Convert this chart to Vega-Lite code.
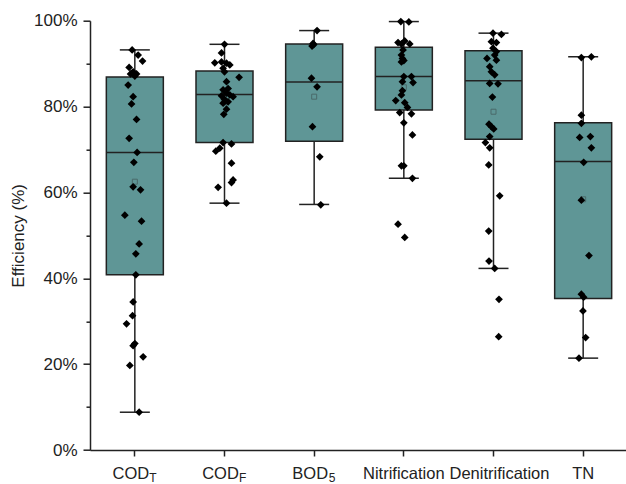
{
  "$schema": "https://vega.github.io/schema/vega-lite/v6.json",
  "width": 538,
  "height": 429.3,
  "autosize": "none",
  "padding": {"left": 90, "top": 20.7, "right": 0, "bottom": 34},
  "background": "white",
  "config": {
    "view": {"stroke": null},
    "font": "Liberation Sans",
    "axis": {"grid": false, "domainColor": "#222", "tickColor": "#222", "domainWidth": 1.5, "tickWidth": 1.5, "labelColor": "#222", "labelFont": "Liberation Sans", "titleFont": "Liberation Sans", "titleColor": "#222", "titleFontWeight": "normal"}
  },
  "datasets": {
    "box": [
      {"cat": "CODT", "lo": 8.8, "q1": 40.8, "med": 69.3, "q3": 86.9, "hi": 93.2, "mean": 62.5},
      {"cat": "CODF", "lo": 57.5, "q1": 71.6, "med": 82.8, "q3": 88.3, "hi": 94.5, "mean": 81.0},
      {"cat": "BOD5", "lo": 57.2, "q1": 71.9, "med": 85.7, "q3": 94.6, "hi": 97.7, "mean": 82.3},
      {"cat": "Nitrification", "lo": 63.3, "q1": 79.2, "med": 87.0, "q3": 93.8, "hi": 99.8, "mean": 84.5},
      {"cat": "Denitrification", "lo": 42.3, "q1": 72.4, "med": 86.0, "q3": 93.0, "hi": 97.1, "mean": 78.8},
      {"cat": "TN", "lo": 21.4, "q1": 35.3, "med": 67.2, "q3": 76.2, "hi": 91.6, "mean": 58.4}
    ],
    "subs": [
      {"cat": "CODT", "sub": "T"},
      {"cat": "CODF", "sub": "F"},
      {"cat": "BOD5", "sub": "5"}
    ],
    "pts": [
      {"cat": "CODT", "eff": 93.2, "jitter": -2.7},
      {"cat": "CODT", "eff": 92.0, "jitter": 3.3},
      {"cat": "CODT", "eff": 90.6, "jitter": 7.7},
      {"cat": "CODT", "eff": 89.1, "jitter": -5.7},
      {"cat": "CODT", "eff": 88.1, "jitter": -1.7},
      {"cat": "CODT", "eff": 87.6, "jitter": 1.7},
      {"cat": "CODT", "eff": 87.6, "jitter": -4.3},
      {"cat": "CODT", "eff": 87.1, "jitter": 0},
      {"cat": "CODT", "eff": 85.0, "jitter": -6.7},
      {"cat": "CODT", "eff": 82.3, "jitter": -1.7},
      {"cat": "CODT", "eff": 80.6, "jitter": -3.3},
      {"cat": "CODT", "eff": 77.0, "jitter": 1.7},
      {"cat": "CODT", "eff": 72.6, "jitter": -5.7},
      {"cat": "CODT", "eff": 69.3, "jitter": 2.3},
      {"cat": "CODT", "eff": 67.0, "jitter": -1},
      {"cat": "CODT", "eff": 61.3, "jitter": -1.7},
      {"cat": "CODT", "eff": 60.6, "jitter": 5.7},
      {"cat": "CODT", "eff": 54.7, "jitter": -10},
      {"cat": "CODT", "eff": 53.3, "jitter": 6.7},
      {"cat": "CODT", "eff": 48.0, "jitter": 4.3},
      {"cat": "CODT", "eff": 45.7, "jitter": 1},
      {"cat": "CODT", "eff": 40.8, "jitter": 1},
      {"cat": "CODT", "eff": 34.5, "jitter": -1.7},
      {"cat": "CODT", "eff": 31.3, "jitter": -2.3},
      {"cat": "CODT", "eff": 29.4, "jitter": -8.3},
      {"cat": "CODT", "eff": 24.8, "jitter": 0},
      {"cat": "CODT", "eff": 24.3, "jitter": -1.7},
      {"cat": "CODT", "eff": 21.7, "jitter": 8.3},
      {"cat": "CODT", "eff": 19.7, "jitter": -5},
      {"cat": "CODT", "eff": 8.8, "jitter": 4.3},
      {"cat": "CODF", "eff": 94.5, "jitter": 0},
      {"cat": "CODF", "eff": 92.5, "jitter": -3},
      {"cat": "CODF", "eff": 90.2, "jitter": -9.7},
      {"cat": "CODF", "eff": 90.4, "jitter": -3},
      {"cat": "CODF", "eff": 90.1, "jitter": 2},
      {"cat": "CODF", "eff": 89.7, "jitter": 5.3},
      {"cat": "CODF", "eff": 88.9, "jitter": -1.4},
      {"cat": "CODF", "eff": 88.1, "jitter": 0},
      {"cat": "CODF", "eff": 86.8, "jitter": 14.6},
      {"cat": "CODF", "eff": 85.8, "jitter": 2},
      {"cat": "CODF", "eff": 84.2, "jitter": 3.6},
      {"cat": "CODF", "eff": 83.9, "jitter": -1.4},
      {"cat": "CODF", "eff": 83.1, "jitter": 2},
      {"cat": "CODF", "eff": 82.7, "jitter": 5.3},
      {"cat": "CODF", "eff": 82.5, "jitter": -3},
      {"cat": "CODF", "eff": 82.3, "jitter": 8.6},
      {"cat": "CODF", "eff": 81.7, "jitter": 0},
      {"cat": "CODF", "eff": 81.1, "jitter": 3.6},
      {"cat": "CODF", "eff": 80.8, "jitter": -1.4},
      {"cat": "CODF", "eff": 79.4, "jitter": 2},
      {"cat": "CODF", "eff": 78.2, "jitter": -0.7},
      {"cat": "CODF", "eff": 71.6, "jitter": -1.4},
      {"cat": "CODF", "eff": 71.3, "jitter": 7},
      {"cat": "CODF", "eff": 70.3, "jitter": -4.7},
      {"cat": "CODF", "eff": 69.6, "jitter": -8.7},
      {"cat": "CODF", "eff": 66.8, "jitter": 7},
      {"cat": "CODF", "eff": 62.9, "jitter": 8.6},
      {"cat": "CODF", "eff": 62.3, "jitter": 7},
      {"cat": "CODF", "eff": 61.2, "jitter": -6.4},
      {"cat": "CODF", "eff": 57.5, "jitter": 2},
      {"cat": "BOD5", "eff": 97.7, "jitter": 2.9},
      {"cat": "BOD5", "eff": 94.7, "jitter": -1.1},
      {"cat": "BOD5", "eff": 94.1, "jitter": -2.1},
      {"cat": "BOD5", "eff": 94.4, "jitter": -0.5},
      {"cat": "BOD5", "eff": 86.6, "jitter": -2.7},
      {"cat": "BOD5", "eff": 84.6, "jitter": 2.9},
      {"cat": "BOD5", "eff": 75.3, "jitter": -1.7},
      {"cat": "BOD5", "eff": 68.3, "jitter": 5.6},
      {"cat": "BOD5", "eff": 57.1, "jitter": 6.6},
      {"cat": "Nitrification", "eff": 99.8, "jitter": -3},
      {"cat": "Nitrification", "eff": 99.7, "jitter": 5},
      {"cat": "Nitrification", "eff": 94.9, "jitter": -5.8},
      {"cat": "Nitrification", "eff": 95.3, "jitter": 0.9},
      {"cat": "Nitrification", "eff": 94.6, "jitter": 5.9},
      {"cat": "Nitrification", "eff": 94.6, "jitter": -2.4},
      {"cat": "Nitrification", "eff": 93.2, "jitter": -0.8},
      {"cat": "Nitrification", "eff": 92.0, "jitter": -2.4},
      {"cat": "Nitrification", "eff": 91.2, "jitter": -1.4},
      {"cat": "Nitrification", "eff": 90.7, "jitter": 0},
      {"cat": "Nitrification", "eff": 90.4, "jitter": -2.4},
      {"cat": "Nitrification", "eff": 87.0, "jitter": 0},
      {"cat": "Nitrification", "eff": 87.0, "jitter": 7.6},
      {"cat": "Nitrification", "eff": 85.8, "jitter": -1.4},
      {"cat": "Nitrification", "eff": 85.6, "jitter": 9.2},
      {"cat": "Nitrification", "eff": 83.7, "jitter": -1.4},
      {"cat": "Nitrification", "eff": 82.7, "jitter": -2.4},
      {"cat": "Nitrification", "eff": 81.4, "jitter": -8.1},
      {"cat": "Nitrification", "eff": 80.9, "jitter": 0.9},
      {"cat": "Nitrification", "eff": 79.8, "jitter": 3.6},
      {"cat": "Nitrification", "eff": 78.6, "jitter": -4.1},
      {"cat": "Nitrification", "eff": 78.3, "jitter": 7.6},
      {"cat": "Nitrification", "eff": 76.2, "jitter": 0},
      {"cat": "Nitrification", "eff": 73.4, "jitter": 8.6},
      {"cat": "Nitrification", "eff": 66.2, "jitter": -2.4},
      {"cat": "Nitrification", "eff": 66.2, "jitter": 0},
      {"cat": "Nitrification", "eff": 63.3, "jitter": 8.6},
      {"cat": "Nitrification", "eff": 52.6, "jitter": -5.8},
      {"cat": "Nitrification", "eff": 49.5, "jitter": 0.9},
      {"cat": "Denitrification", "eff": 97.1, "jitter": -0.5},
      {"cat": "Denitrification", "eff": 96.8, "jitter": 7.9},
      {"cat": "Denitrification", "eff": 95.1, "jitter": -2.1},
      {"cat": "Denitrification", "eff": 94.9, "jitter": 2.9},
      {"cat": "Denitrification", "eff": 93.6, "jitter": -0.5},
      {"cat": "Denitrification", "eff": 92.8, "jitter": 2.9},
      {"cat": "Denitrification", "eff": 92.0, "jitter": 1.2},
      {"cat": "Denitrification", "eff": 91.2, "jitter": -6.5},
      {"cat": "Denitrification", "eff": 90.8, "jitter": 2.9},
      {"cat": "Denitrification", "eff": 89.3, "jitter": -3.8},
      {"cat": "Denitrification", "eff": 88.1, "jitter": -2.1},
      {"cat": "Denitrification", "eff": 87.4, "jitter": 1.2},
      {"cat": "Denitrification", "eff": 85.4, "jitter": -3.8},
      {"cat": "Denitrification", "eff": 85.3, "jitter": 4.5},
      {"cat": "Denitrification", "eff": 82.2, "jitter": -1.1},
      {"cat": "Denitrification", "eff": 75.9, "jitter": -4.5},
      {"cat": "Denitrification", "eff": 75.3, "jitter": -2.1},
      {"cat": "Denitrification", "eff": 74.8, "jitter": 0.2},
      {"cat": "Denitrification", "eff": 73.0, "jitter": -3.8},
      {"cat": "Denitrification", "eff": 71.6, "jitter": -8.1},
      {"cat": "Denitrification", "eff": 70.4, "jitter": -3.8},
      {"cat": "Denitrification", "eff": 66.4, "jitter": -4.8},
      {"cat": "Denitrification", "eff": 59.2, "jitter": 6.2},
      {"cat": "Denitrification", "eff": 51.0, "jitter": -4.8},
      {"cat": "Denitrification", "eff": 44.0, "jitter": -4.5},
      {"cat": "Denitrification", "eff": 42.3, "jitter": 1.2},
      {"cat": "Denitrification", "eff": 35.1, "jitter": 5.5},
      {"cat": "Denitrification", "eff": 26.4, "jitter": 5.2},
      {"cat": "TN", "eff": 91.4, "jitter": -1.8},
      {"cat": "TN", "eff": 91.6, "jitter": 8.2},
      {"cat": "TN", "eff": 78.0, "jitter": -1.8},
      {"cat": "TN", "eff": 76.1, "jitter": -1.8},
      {"cat": "TN", "eff": 72.8, "jitter": -3.5},
      {"cat": "TN", "eff": 73.0, "jitter": 7.2},
      {"cat": "TN", "eff": 70.4, "jitter": 8.2},
      {"cat": "TN", "eff": 67.0, "jitter": 0.5},
      {"cat": "TN", "eff": 58.2, "jitter": -1.8},
      {"cat": "TN", "eff": 45.3, "jitter": 5.8},
      {"cat": "TN", "eff": 36.3, "jitter": -1.8},
      {"cat": "TN", "eff": 35.6, "jitter": 0.5},
      {"cat": "TN", "eff": 32.4, "jitter": -0.2},
      {"cat": "TN", "eff": 26.2, "jitter": 2.5},
      {"cat": "TN", "eff": 21.4, "jitter": -4.2}
    ]
  },
  "encoding": {
    "x": {
      "field": "cat", "type": "nominal", "sort": ["CODT", "CODF", "BOD5", "Nitrification", "Denitrification", "TN"],
      "scale": {"domain": ["CODT", "CODF", "BOD5", "Nitrification", "Denitrification", "TN"], "paddingInner": 0, "paddingOuter": 0},
      "axis": {
        "title": null, "labelAngle": 0, "labelFontSize": 16.5, "tickSize": 6, "labelPadding": 9, "labelOverlap": false,
        "labelExpr": "datum.value == 'CODT' || datum.value == 'CODF' ? 'COD' : datum.value == 'BOD5' ? 'BOD' : datum.value",
        "labelOffset": {"condition": [
          {"test": "datum.value == 'CODT' || datum.value == 'CODF' || datum.value == 'BOD5'", "value": -4},
          {"test": "datum.value == 'Denitrification'", "value": 6}
        ], "value": 0}
      }
    }
  },
  "layer": [
    {
      "data": {"name": "box"},
      "mark": {"type": "rule", "color": "#222", "strokeWidth": 1.5},
      "encoding": {
        "y": {"field": "lo", "type": "quantitative", "scale": {"domain": [0, 100], "nice": false},
          "axis": {"title": "Efficiency (%)", "titleFontSize": 17, "titlePadding": 6, "labelFontSize": 17, "labelPadding": 6,
            "values": [0, 10, 20, 30, 40, 50, 60, 70, 80, 90, 100],
            "labelExpr": "datum.value % 20 === 0 ? datum.value + '%' : ''",
            "tickSize": {"condition": {"test": "datum.value % 20 === 0", "value": 7}, "value": 4}}},
        "y2": {"field": "hi"}
      }
    },
    {
      "data": {"name": "box"},
      "mark": {"type": "bar", "width": 57, "fill": "#5f9696", "stroke": "#222", "strokeWidth": 1.5},
      "encoding": {
        "y": {"field": "q1", "type": "quantitative"},
        "y2": {"field": "q3"}
      }
    },
    {
      "data": {"name": "box"},
      "mark": {"type": "tick", "color": "#222", "thickness": 1.5, "size": 57, "opacity": 1},
      "encoding": {"y": {"field": "med", "type": "quantitative"}}
    },
    {
      "data": {"name": "box"},
      "mark": {"type": "tick", "color": "#222", "thickness": 1.5, "size": 30, "opacity": 1},
      "encoding": {"y": {"field": "lo", "type": "quantitative"}}
    },
    {
      "data": {"name": "box"},
      "mark": {"type": "tick", "color": "#222", "thickness": 1.5, "size": 30, "opacity": 1},
      "encoding": {"y": {"field": "hi", "type": "quantitative"}}
    },
    {
      "data": {"name": "box"},
      "mark": {"type": "point", "shape": "square", "filled": false, "stroke": "#4a6a6a", "strokeWidth": 1, "size": 25, "opacity": 1},
      "encoding": {"y": {"field": "mean", "type": "quantitative"}}
    },
    {
      "data": {"name": "pts"},
      "mark": {"type": "point", "shape": "diamond", "filled": true, "color": "#000", "size": 60, "opacity": 1},
      "encoding": {
        "y": {"field": "eff", "type": "quantitative"},
        "xOffset": {"field": "jitter", "type": "quantitative", "scale": {"domain": [-44.85, 44.85], "range": [0, 89.67]}}
      }
    },
    {
      "data": {"name": "subs"},
      "mark": {"type": "text", "fontSize": 12, "align": "left", "baseline": "alphabetic", "dx": 14.5, "dy": 32, "color": "#222"},
      "encoding": {
        "y": {"datum": 0, "type": "quantitative"},
        "text": {"field": "sub"}
      }
    }
  ]
}
